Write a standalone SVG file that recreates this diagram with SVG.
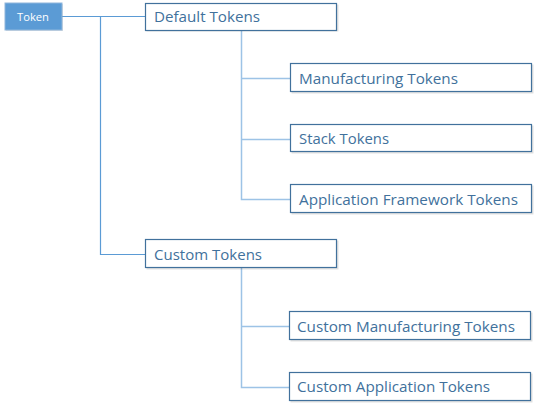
<svg xmlns="http://www.w3.org/2000/svg" width="538" height="408" viewBox="0 0 538 408">
<defs>
<style>
.box{fill:#fff;stroke:#41719c;stroke-width:1.2}
.sh{fill:#000;opacity:0.12}
.t{font-family:"Open Sans","Liberation Sans",Arial,sans-serif;font-size:14px;fill:#41719c}
.c1{fill:none;stroke:#5b9bd5;stroke-width:1.2}
.c2{fill:none;stroke:#9dc3e6;stroke-width:1.5}
</style>
</defs>
<rect width="538" height="408" fill="#fff"/>
<g id="connectors">
<path class="c1" d="M62 16.5H145M100.5 16.5V254.5H145"/>
<path class="c2" d="M241.5 30V199.5H290M241.5 78.5H290M241.5 139.5H290"/>
<path class="c2" d="M241.5 268V387.5H289M241.5 326.5H289"/>
</g>
<g id="token">
<rect x="6" y="4" width="57" height="27" fill="#000" opacity="0.12"/>
<rect x="5" y="3" width="57" height="27" fill="#5b9bd5" stroke="#8fb6dc" stroke-width="1"/>
<text x="17" y="21" font-family="Open Sans,Liberation Sans,Arial,sans-serif" font-size="11" fill="#fff" textLength="32" lengthAdjust="spacingAndGlyphs">Token</text>
</g>
<g id="default">
<rect class="sh" x="146.5" y="4.5" width="192" height="27"/>
<rect class="box" x="145.5" y="3.5" width="191" height="27"/>
<text class="t" x="154" y="22" textLength="106" lengthAdjust="spacingAndGlyphs">Default Tokens</text>
</g>
<g id="manufacturing">
<rect class="sh" x="291.5" y="64.5" width="242" height="29"/>
<rect class="box" x="290.5" y="63.5" width="241" height="28"/>
<text class="t" x="299" y="84" textLength="159" lengthAdjust="spacingAndGlyphs">Manufacturing Tokens</text>
</g>
<g id="stack">
<rect class="sh" x="291.5" y="125.5" width="242" height="28"/>
<rect class="box" x="290.5" y="124.5" width="241" height="27"/>
<text class="t" x="299" y="144" textLength="90" lengthAdjust="spacingAndGlyphs">Stack Tokens</text>
</g>
<g id="appframework">
<rect class="sh" x="291.5" y="185.5" width="242" height="29"/>
<rect class="box" x="290.5" y="184.5" width="241" height="28"/>
<text class="t" x="299" y="205" textLength="219" lengthAdjust="spacingAndGlyphs">Application Framework Tokens</text>
</g>
<g id="custom">
<rect class="sh" x="146.5" y="240.5" width="192" height="29"/>
<rect class="box" x="145.5" y="239.5" width="191" height="28"/>
<text class="t" x="154" y="260" textLength="108" lengthAdjust="spacingAndGlyphs">Custom Tokens</text>
</g>
<g id="custommanufacturing">
<rect class="sh" x="290.5" y="312.5" width="242" height="29"/>
<rect class="box" x="289.5" y="311.5" width="241" height="28"/>
<text class="t" x="297" y="332" textLength="218" lengthAdjust="spacingAndGlyphs">Custom Manufacturing Tokens</text>
</g>
<g id="customapplication">
<rect class="sh" x="290.5" y="373.5" width="242" height="29"/>
<rect class="box" x="289.5" y="372.5" width="241" height="28"/>
<text class="t" x="297" y="392" textLength="193" lengthAdjust="spacingAndGlyphs">Custom Application Tokens</text>
</g>
</svg>
